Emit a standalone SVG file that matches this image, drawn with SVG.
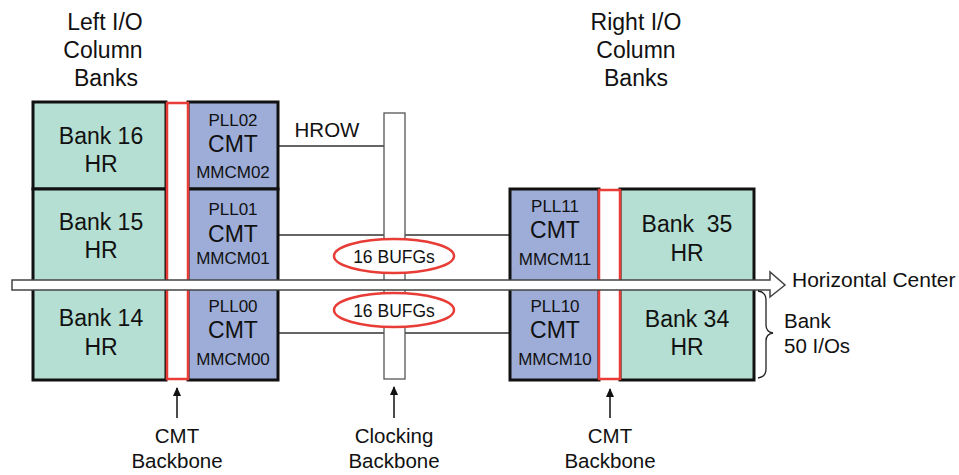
<svg xmlns="http://www.w3.org/2000/svg" width="959" height="475" viewBox="0 0 959 475">
<defs>
<style>
text{font-family:"Liberation Sans",Arial,sans-serif;fill:#111;text-anchor:middle}
.bank{fill:#b4dfd2;stroke:#111;stroke-width:3}
.cmt{fill:#9dadd8;stroke:#111;stroke-width:3}
.bb{fill:#fff;stroke:#e83c36;stroke-width:2.5}
.big{font-size:23px}
.sm{font-size:17px}
.lbl{font-size:20.5px}
.wire{stroke:#333;stroke-width:1.3;fill:none}
.oval{fill:#fff;stroke:#e83c36;stroke-width:2.5}
</style>
<marker id="ah" viewBox="0 0 10 12" refX="9" refY="6" markerWidth="9" markerHeight="12" markerUnits="userSpaceOnUse" orient="auto"><path d="M0,1.5 L10,6 L0,10.5 z" fill="#111"/></marker>
</defs>
<rect width="959" height="475" fill="#fff"/>

<g id="titles">
<text class="big" x="105" y="30">Left I/O</text>
<text class="big" x="103" y="58">Column</text>
<text class="big" x="106" y="86">Banks</text>
<text class="big" x="636" y="30">Right I/O</text>
<text class="big" x="636" y="58">Column</text>
<text class="big" x="636" y="86">Banks</text>
</g>

<g id="connectors">
<path class="wire" d="M278,146 H384 M278,235 H510 M278,333 H510"/>
</g>

<g id="left-block">
<g id="bank16"><rect class="bank" x="33" y="102" width="133" height="87"/><text class="big" x="101" y="144">Bank 16</text><text class="big" x="101" y="172">HR</text></g>
<g id="bank15"><rect class="bank" x="33" y="189" width="133" height="96"/><text class="big" x="101" y="230">Bank 15</text><text class="big" x="101" y="258">HR</text></g>
<g id="bank14"><rect class="bank" x="33" y="285" width="133" height="95"/><text class="big" x="101" y="326">Bank 14</text><text class="big" x="101" y="355">HR</text></g>
<g id="cmt02"><rect class="cmt" x="188" y="102" width="90" height="87"/><text class="sm" x="233" y="126">PLL02</text><text class="big" x="233" y="152">CMT</text><text class="sm" x="233" y="178">MMCM02</text></g>
<g id="cmt01"><rect class="cmt" x="188" y="189" width="90" height="96"/><text class="sm" x="233" y="215">PLL01</text><text class="big" x="233" y="242">CMT</text><text class="sm" x="233" y="264">MMCM01</text></g>
<g id="cmt00"><rect class="cmt" x="188" y="285" width="90" height="95"/><text class="sm" x="233" y="312">PLL00</text><text class="big" x="233" y="338">CMT</text><text class="sm" x="233" y="365">MMCM00</text></g>
<g id="left-cmt-backbone"><rect class="bb" x="167" y="103" width="21" height="276"/></g>
</g>

<g id="right-block">
<g id="cmt11"><rect class="cmt" x="510" y="189" width="89" height="96"/><text class="sm" x="555" y="212">PLL11</text><text class="big" x="555" y="238">CMT</text><text class="sm" x="555" y="265">MMCM11</text></g>
<g id="cmt10"><rect class="cmt" x="510" y="285" width="89" height="95"/><text class="sm" x="555" y="312">PLL10</text><text class="big" x="555" y="338">CMT</text><text class="sm" x="555" y="365">MMCM10</text></g>
<g id="bank35"><rect class="bank" x="620" y="189" width="134" height="96"/><text class="big" x="687" y="232" xml:space="preserve">Bank  35</text><text class="big" x="687" y="261">HR</text></g>
<g id="bank34"><rect class="bank" x="620" y="285" width="134" height="95"/><text class="big" x="687" y="327">Bank 34</text><text class="big" x="687" y="355">HR</text></g>
<g id="right-cmt-backbone"><rect class="bb" x="599" y="190" width="21" height="189"/></g>
</g>

<g id="clocking-backbone"><rect x="384" y="113" width="21" height="266" fill="#fff" stroke="#555" stroke-width="1.3"/></g>

<g id="hrow"><text class="lbl" x="327" y="137">HROW</text></g>

<g id="horizontal-center">
<path d="M12,280 H770 V272 L785,285 L770,297 V290 H12 Z" fill="#fff" stroke="#444" stroke-width="1.5" stroke-linejoin="miter"/>
<text x="792" y="287" style="text-anchor:start;font-size:21px">Horizontal Center</text>
</g>

<g id="bufg-top"><ellipse class="oval" cx="394" cy="256" rx="60" ry="17"/><text x="394" y="263" style="font-size:17.5px">16 BUFGs</text></g>
<g id="bufg-bottom"><ellipse class="oval" cx="394" cy="310" rx="60" ry="17"/><text x="394" y="317" style="font-size:17.5px">16 BUFGs</text></g>

<g id="bank-brace">
<path d="M758,291 Q766,292 766,300 V325 Q766,332 773,333 Q766,334 766,341 V369 Q766,377 758,378" fill="none" stroke="#222" stroke-width="1.3"/>
<text class="lbl" x="784" y="328" style="text-anchor:start">Bank</text>
<text class="lbl" x="784" y="353" style="text-anchor:start">50 I/Os</text>
</g>

<g id="labels-bottom">
<line x1="177" y1="418" x2="177" y2="388" stroke="#111" stroke-width="1.5" marker-end="url(#ah)"/>
<text class="lbl" x="177" y="443">CMT</text><text class="lbl" x="177" y="468">Backbone</text>
<line x1="394" y1="418" x2="394" y2="387" stroke="#111" stroke-width="1.5" marker-end="url(#ah)"/>
<text class="lbl" x="394" y="443">Clocking</text><text class="lbl" x="394" y="468">Backbone</text>
<line x1="610" y1="418" x2="610" y2="389" stroke="#111" stroke-width="1.5" marker-end="url(#ah)"/>
<text class="lbl" x="610" y="443">CMT</text><text class="lbl" x="610" y="468">Backbone</text>
</g>
</svg>
